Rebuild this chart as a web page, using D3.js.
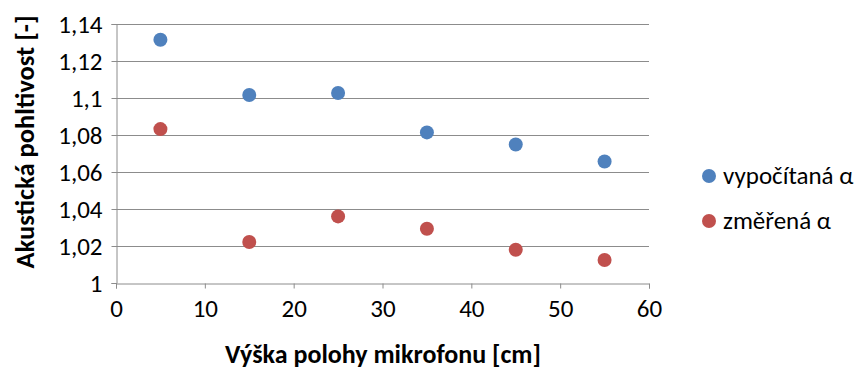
<!DOCTYPE html>
<html><head><meta charset="utf-8">
<script src="https://cdn.jsdelivr.net/npm/d3@7"></script>
<style>body{margin:0;background:#fff}svg{display:block}</style>
</head><body>
<svg id="c" width="865" height="372"></svg>
<script>
const xValues = [5, 15, 25, 35, 45, 55];
const calcValues = [1.1315, 1.1016, 1.1027, 1.0814, 1.0749, 1.0657];
const measValues = [1.0832, 1.0222, 1.0360, 1.0293, 1.0180, 1.0124];
const seriesNames = ["vypočítaná α", "změřená α"];
const seriesColors = ["#4F81BD", "#C0504D"];
const xTicks = [0, 10, 20, 30, 40, 50, 60];
const yTicks = [1, 1.02, 1.04, 1.06, 1.08, 1.1, 1.12, 1.14];
const xTitle = "Výška polohy mikrofonu [cm]";
const yTitle = "Akustická pohltivost [-]";

const svg = d3.select("#c");
const font = "Carlito, Calibri, 'Open Sans', sans-serif";
const FS = 25;
const L = 116, R = 649, T = 24, B = 283;
const x = d3.scaleLinear().domain([0, 60]).range([L, R]);
const y = d3.scaleLinear().domain([1, 1.14]).range([B, T]);
const fmt = v => String(+v.toFixed(2)).replace(".", ",");

svg.append("g").selectAll("line").data(yTicks.slice(1)).join("line")
  .attr("x1", L).attr("x2", R)
  .attr("y1", d => Math.round(y(d)) + 0.5).attr("y2", d => Math.round(y(d)) + 0.5)
  .attr("stroke", "#8c8c8c").attr("stroke-width", 1);

const ya = svg.append("g").attr("transform", `translate(${L + 0.5},0)`)
  .call(d3.axisLeft(y).tickValues(yTicks).tickFormat(fmt).tickSize(5).tickPadding(9));
const xa = svg.append("g").attr("transform", `translate(0,${B + 0.5})`)
  .call(d3.axisBottom(x).tickValues(xTicks).tickFormat(d => d).tickSize(5).tickPadding(11));
[ya, xa].forEach(a => {
  a.select(".domain").attr("stroke", "#8c8c8c");
  a.selectAll(".tick line").attr("stroke", "#8c8c8c");
  a.selectAll("text").attr("font-family", font).attr("font-size", FS).attr("fill", "#000");
});

const series = [calcValues, measValues];
series.forEach((vals, i) => {
  svg.append("g").selectAll("circle").data(vals).join("circle")
    .attr("cx", (d, j) => x(xValues[j])).attr("cy", d => y(d))
    .attr("r", 7).attr("fill", seriesColors[i]);
});

svg.append("text").attr("x", 383).attr("y", 363).attr("text-anchor", "middle")
  .attr("font-family", font).attr("font-size", 26).attr("font-weight", "bold").text(xTitle);
svg.append("text").attr("transform", "translate(34,142) rotate(-90)").attr("text-anchor", "middle")
  .attr("font-family", font).attr("font-size", 26.5).attr("font-weight", "bold").text(yTitle);

seriesNames.forEach((n, i) => {
  const cy = 176 + i * 45;
  svg.append("circle").attr("cx", 709).attr("cy", cy).attr("r", 7).attr("fill", seriesColors[i]);
  svg.append("text").attr("x", 723).attr("y", cy + 8).attr("font-family", font)
    .attr("font-size", FS).text(n);
});
</script>
</body></html>
